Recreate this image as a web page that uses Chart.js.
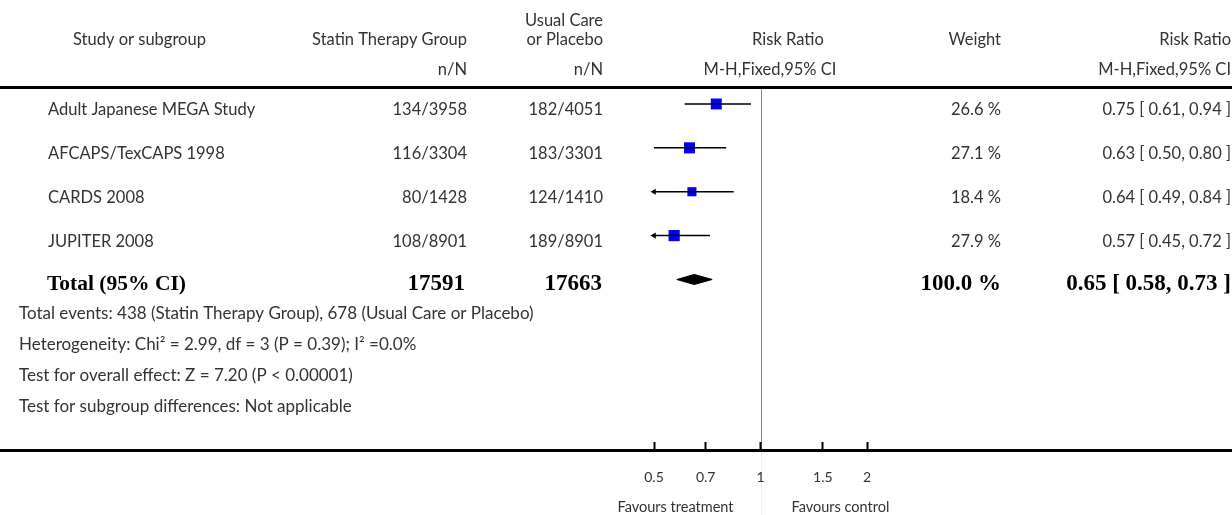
<!DOCTYPE html>
<html>
<head>
<meta charset="utf-8">
<script src="https://cdn.jsdelivr.net/npm/chart.js@4.4.1/dist/chart.umd.min.js"></script>
<style>
  html, body { margin: 0; padding: 0; background: #fff; }
  #wrap { width: 1232px; height: 515px; }
</style>
</head>
<body>
<div id="wrap"><canvas id="forest" width="1232" height="515"></canvas></div>
<script>
// Statin therapy vs usual care / placebo - forest plot (risk ratio, M-H fixed)

const studies = ['Adult Japanese MEGA Study', 'AFCAPS/TexCAPS 1998', 'CARDS 2008', 'JUPITER 2008'];
const treatEvents = [134, 116, 80, 108];
const treatTotal = [3958, 3304, 1428, 8901];
const ctrlEvents = [182, 183, 124, 189];
const ctrlTotal = [4051, 3301, 1410, 8901];
const weights = [26.6, 27.1, 18.4, 27.9];
const riskRatio = [0.75, 0.63, 0.64, 0.57];
const ciLow = [0.61, 0.50, 0.49, 0.45];
const ciHigh = [0.94, 0.80, 0.84, 0.72];

const totalLabel = 'Total (95% CI)';
const totalTreat = 17591;
const totalCtrl = 17663;
const totalWeight = 100.0;
const totalRR = 0.65;
const totalLow = 0.58;
const totalHigh = 0.73;

const footnotes = [
    'Total events: 438 (Statin Therapy Group), 678 (Usual Care or Placebo)',
    'Heterogeneity: Chi\u00B2 = 2.99, df = 3 (P = 0.39); I\u00B2 =0.0%',
    'Test for overall effect: Z = 7.20 (P < 0.00001)',
    'Test for subgroup differences: Not applicable'
];

const xTicks = [0.5, 0.7, 1, 1.5, 2];
const xMin = 0.5;
const xMax = 2;

const SANS = 'Lato, "Open Sans", sans-serif';
const SERIF = '"Liberation Serif", "DejaVu Serif", serif';
const TEXT = '#333333';

function fmt(v) { return v.toFixed(2); }
function ciText(rr, lo, hi) { return fmt(rr) + ' [ ' + fmt(lo) + ', ' + fmt(hi) + ' ]'; }

// one whisker per study, clipped by the chart area
const datasets = [];
studies.forEach(function (name, i) {
    datasets.push({
        type: 'scatter',
        showLine: true,
        data: [{ x: ciLow[i], y: i }, { x: ciHigh[i], y: i }],
        borderColor: '#000',
        borderWidth: 1.5,
        pointRadius: 0
    });
});

// arrows where the interval runs past the axis
const arrowPts = [];
studies.forEach(function (name, i) {
    if (ciLow[i] < xMin) arrowPts.push({ x: xMin, y: i });
});
datasets.push({
    type: 'scatter',
    data: arrowPts,
    pointStyle: 'triangle',
    rotation: -90,
    radius: 3.5,
    backgroundColor: '#000',
    borderColor: '#000',
    borderWidth: 0,
    clip: false
});

// weighted boxes
datasets.push({
    type: 'scatter',
    data: riskRatio.map(function (rr, i) { return { x: rr, y: i }; }),
    pointStyle: 'rect',
    radius: weights.map(function (w) { return 1.5 * Math.sqrt(w); }),
    backgroundColor: '#0000ff',
    borderWidth: 0
});

// point estimate tick inside each box
datasets.push({
    type: 'scatter',
    data: riskRatio.map(function (rr, i) { return { x: rr, y: i }; }),
    pointStyle: 'line',
    rotation: 90,
    radius: 2,
    borderColor: '#000',
    borderWidth: 1
});

// pooled diamond
const totalRow = studies.length;
const DH = 0.115;
datasets.push({
    type: 'scatter',
    showLine: true,
    data: [
        { x: totalLow, y: totalRow },
        { x: totalRR, y: totalRow - DH },
        { x: totalHigh, y: totalRow },
        { x: totalRR, y: totalRow + DH },
        { x: totalLow, y: totalRow }
    ],
    borderColor: '#000',
    borderWidth: 1,
    backgroundColor: '#000',
    fill: 'shape',
    pointRadius: 0,
    tension: 0
});

const tablePlugin = {
    id: 'forestTable',
    beforeDraw: function (chart) {
        const ctx = chart.ctx;
        const x = chart.scales.x;
        const area = chart.chartArea;
        const one = Math.round(x.getPixelForValue(1)) + 0.5;
        ctx.save();
        // line of no effect, fading out below the axis
        ctx.strokeStyle = '#f0f0f0';
        ctx.lineWidth = 1;
        ctx.beginPath();
        ctx.moveTo(one, area.bottom);
        ctx.lineTo(one, chart.height);
        ctx.stroke();
        ctx.strokeStyle = '#888';
        ctx.beginPath();
        ctx.moveTo(one, area.top);
        ctx.lineTo(one, area.bottom);
        ctx.stroke();
        ctx.restore();
    },
    afterDraw: function (chart) {
        const ctx = chart.ctx;
        const y = chart.scales.y;
        const x = chart.scales.x;
        const area = chart.chartArea;
        const W = chart.width;
        ctx.save();

        // rules
        ctx.fillStyle = '#000';
        ctx.fillRect(0, area.top - 2, W, 3);
        ctx.fillRect(0, area.bottom - 1, W, 3);

        const body = '16.5px ' + SANS;
        function txt(s, px, py, align, font, color) {
            ctx.font = font || body;
            ctx.fillStyle = color || TEXT;
            ctx.textAlign = align;
            ctx.textBaseline = 'middle';
            ctx.fillText(s, px, py);
        }

        // header
        txt('Study or subgroup', 73, 40, 'left');
        txt('Statin Therapy Group', 467, 40, 'right');
        txt('Usual Care', 603, 21, 'right');
        txt('or Placebo', 603, 40, 'right');
        txt('Risk Ratio', 788, 40, 'center');
        txt('Weight', 1001, 40, 'right');
        txt('Risk Ratio', 1231, 40, 'right');
        txt('n/N', 467, 70, 'right');
        txt('n/N', 603, 70, 'right');
        txt('M-H,Fixed,95% CI', 770, 70, 'center');
        txt('M-H,Fixed,95% CI', 1231, 70, 'right');

        // study rows
        studies.forEach(function (name, i) {
            const py = y.getPixelForValue(i) + 6;
            txt(name, 48, py, 'left');
            txt(treatEvents[i] + '/' + treatTotal[i], 467, py, 'right');
            txt(ctrlEvents[i] + '/' + ctrlTotal[i], 603, py, 'right');
            txt(weights[i].toFixed(1) + ' %', 1001, py, 'right');
            txt(ciText(riskRatio[i], ciLow[i], ciHigh[i]), 1231, py, 'right');
        });

        // total row
        const ty = y.getPixelForValue(totalRow) + 5;
        const boldLabel = 'bold 21.5px ' + SERIF;
        const boldNum = 'bold 23px ' + SERIF;
        txt(totalLabel, 47, ty, 'left', boldLabel, '#000');
        txt(String(totalTreat), 465, ty, 'right', boldNum, '#000');
        txt(String(totalCtrl), 602, ty, 'right', boldNum, '#000');
        txt(totalWeight.toFixed(1) + ' %', 1001, ty, 'right', boldNum, '#000');
        txt(ciText(totalRR, totalLow, totalHigh), 1231, ty, 'right', boldNum, '#000');

        // footnotes
        footnotes.forEach(function (s, k) {
            txt(s, 19, 314 + k * 30.7, 'left', '17px ' + SANS);
        });

        // favours labels
        const one = x.getPixelForValue(1);
        txt('Favours treatment', one - 27, 507, 'right', '14.5px ' + SANS);
        txt('Favours control', one + 31, 507, 'left', '14.5px ' + SANS);

        ctx.restore();
    }
};

new Chart(document.getElementById('forest'), {
    type: 'scatter',
    data: { datasets: datasets },
    plugins: [tablePlugin],
    options: {
        responsive: false,
        animation: false,
        layout: { padding: { left: 654, right: 365, top: 88, bottom: 0 } },
        plugins: { legend: { display: false }, tooltip: { enabled: false } },
        elements: { line: { tension: 0 } },
        scales: {
            x: {
                type: 'logarithmic',
                min: xMin,
                max: xMax,
                afterBuildTicks: function (scale) {
                    scale.ticks = xTicks.map(function (v) { return { value: v }; });
                },
                afterFit: function (scale) { scale.height = 65; },
                border: { display: false },
                grid: {
                    drawOnChartArea: false,
                    drawTicks: true,
                    tickLength: -8,
                    tickWidth: 2,
                    tickColor: '#000'
                },
                ticks: {
                    autoSkip: false,
                    maxRotation: 0,
                    padding: 27,
                    color: TEXT,
                    font: { family: SANS, size: 14 },
                    callback: function (v) { return String(v); }
                }
            },
            y: {
                type: 'linear',
                display: false,
                reverse: true,
                min: -0.364,
                max: 7.886
            }
        }
    }
});
</script>
</body>
</html>
